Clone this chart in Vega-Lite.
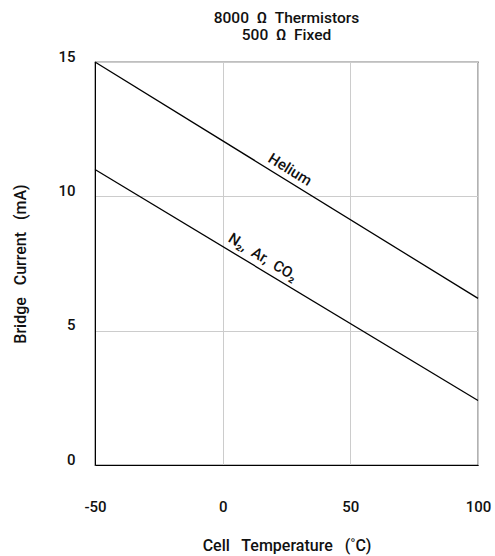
{
  "$schema": "https://vega.github.io/schema/vega-lite/v6.json",
  "width": 383,
  "height": 403,
  "autosize": "none",
  "padding": {"left": 95, "top": 62, "right": 17, "bottom": 91},
  "background": "white",
  "config": {
    "font": "Roboto",
    "view": {"stroke": "#000", "strokeWidth": 1.2},
    "axis": {
      "labelFont": "Roboto",
      "titleFont": "Roboto",
      "labelFontSize": 15,
      "titleFontSize": 16,
      "labelColor": "#111",
      "titleColor": "#111",
      "labelFontWeight": 500,
      "titleFontWeight": 500,
      "domainColor": "#000",
      "gridColor": "#cccccc",
      "gridWidth": 1,
      "ticks": false
    }
  },
  "title": {
    "text": ["8000\u00a0 \u03a9\u00a0 Thermistors", "500\u00a0 \u03a9\u00a0 Fixed"],
    "font": "Roboto",
    "fontSize": 15.5,
    "fontWeight": 500,
    "color": "#111",
    "anchor": "middle",
    "lineHeight": 17,
    "offset": 6
  },
  "datasets": {
    "lines": [
      {"gas": "Helium", "temp": -50, "current": 15.0},
      {"gas": "Helium", "temp": 100, "current": 6.2},
      {"gas": "N2", "temp": -50, "current": 11.0},
      {"gas": "N2", "temp": 100, "current": 2.4}
    ],
    "labels": [
      {"label": "Helium", "temp": 26.4, "current": 11.0},
      {"label": "N\u2082,\u00a0 Ar,\u00a0 CO\u2082", "temp": 15.8, "current": 7.74}
    ]
  },
  "layer": [
    {
      "data": {"name": "lines"},
      "mark": {"type": "line", "color": "#000", "strokeWidth": 1.3},
      "encoding": {
        "x": {
          "field": "temp", "type": "quantitative",
          "scale": {"domain": [-50, 100], "nice": false},
          "axis": {
            "values": [-50, 0, 50, 100],
            "labelExpr": "replace(datum.label, '\u2212', '-')",
            "labelPadding": 34,
            "title": "Cell\u00a0\u00a0 Temperature\u00a0\u00a0 (\u02daC)",
            "titlePadding": 23,
            "labelFlush": false
          }
        },
        "y": {
          "field": "current", "type": "quantitative",
          "scale": {"domain": [0, 15], "nice": false},
          "axis": {
            "values": [0, 5, 10, 15],
            "labelPadding": 20,
            "labelOffset": -6,
            "title": "Bridge\u00a0\u00a0 Current\u00a0\u00a0 (mA)",
            "titlePadding": 29,
            "labelFlush": false
          }
        },
        "detail": {"field": "gas"}
      }
    },
    {
      "data": {"name": "labels"},
      "mark": {"type": "text", "angle": 31.5, "fontSize": 15, "fontWeight": 500, "color": "#111", "font": "Roboto", "align": "center", "baseline": "middle"},
      "encoding": {
        "x": {"field": "temp", "type": "quantitative"},
        "y": {"field": "current", "type": "quantitative"},
        "text": {"field": "label"}
      }
    }
  ]
}
